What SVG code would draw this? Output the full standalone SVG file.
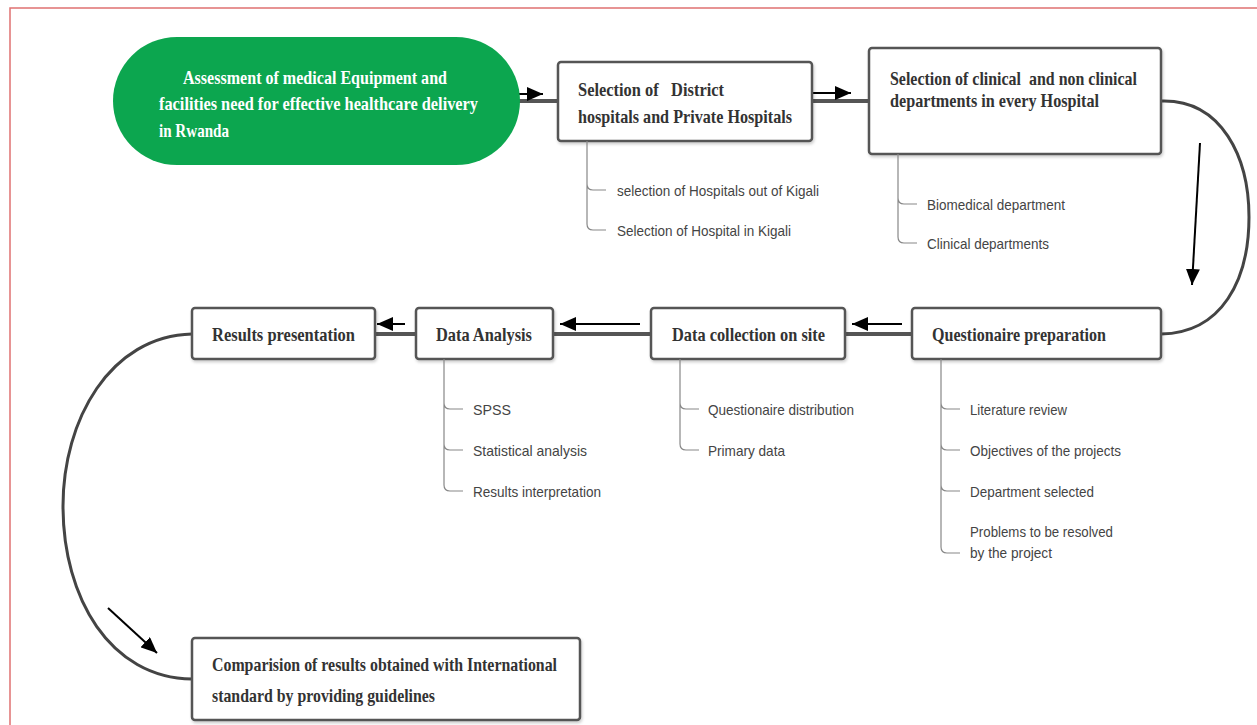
<svg xmlns="http://www.w3.org/2000/svg" width="1257" height="725" viewBox="0 0 1257 725">
<style>
.box{fill:#fff;stroke:#555;stroke-width:2.5}
.t{font-family:"Liberation Serif","Times New Roman",serif;font-weight:bold;font-size:19px;fill:#333}
.tw{font-family:"Liberation Serif","Times New Roman",serif;font-weight:bold;font-size:19px;fill:#fff}
.s{font-family:"Liberation Sans",Arial,sans-serif;font-size:15px;fill:#444}
.link{fill:none;stroke:#555;stroke-width:4}
.curve{fill:none;stroke:#444;stroke-width:3}
.br{fill:none;stroke:#888;stroke-width:1.2}
.arr{fill:none;stroke:#000;stroke-width:2;marker-end:url(#ah)}
</style>
<defs>
<marker id="ah" markerUnits="userSpaceOnUse" markerWidth="16" markerHeight="14" refX="16" refY="7" orient="auto">
<path d="M0,0 L16,7 L0,14 Z" fill="#000"/>
</marker>
<filter id="sh" x="-5%" y="-10%" width="110%" height="130%">
<feDropShadow dx="1" dy="2" stdDeviation="1.5" flood-color="#000" flood-opacity="0.2"/>
</filter>
</defs>
<rect width="1257" height="725" fill="#fff"/>
<path d="M10,725 V8 H1257" fill="none" stroke="#e07272" stroke-width="1.5"/>

<g id="connectors">
<path class="link" d="M515,101 H558"/>
<path class="link" d="M812,101 H869"/>
<path class="link" d="M845,334 H912"/>
<path class="link" d="M553,334 H651"/>
<path class="link" d="M375,334 H416"/>
<path class="curve" d="M1161,101 C1222,99 1249,158 1249,217 C1249,280 1222,333 1161,334"/>
<path class="curve" d="M192,334 C110,336 63,420 63,506 C63,598 110,678 192,679"/>
<path class="arr" d="M514,94 H543"/>
<path class="arr" d="M806,93 H851"/>
<path class="arr" d="M902,324 H852"/>
<path class="arr" d="M640,324 H560"/>
<path class="arr" d="M405,324 H377"/>
<path class="arr" d="M1200,143 L1192,285"/>
<path class="arr" d="M108,608 L157,653"/>
</g>

<g id="n-assessment">
<rect x="113" y="37" width="407" height="128" rx="64" ry="64" fill="#0ca64f"/>
<text class="tw" x="183" y="84" textLength="264" lengthAdjust="spacingAndGlyphs">Assessment of medical Equipment and</text>
<text class="tw" x="159" y="110" textLength="319" lengthAdjust="spacingAndGlyphs">facilities need for effective healthcare delivery</text>
<text class="tw" x="159" y="137" textLength="70" lengthAdjust="spacingAndGlyphs">in Rwanda</text>
</g>

<g id="n-selection-hospitals">
<rect class="box" x="558" y="62" width="254" height="79" rx="3" filter="url(#sh)"/>
<text class="t" x="578" y="96" textLength="146" lengthAdjust="spacingAndGlyphs" xml:space="preserve">Selection of   District</text>
<text class="t" x="578" y="123" textLength="214" lengthAdjust="spacingAndGlyphs">hospitals and Private Hospitals</text>
<path class="br" d="M587,141 V224 Q587,230 593,230 H606 M587,184 Q587,190 593,190 H606"/>
<text class="s" x="617" y="196" textLength="202" lengthAdjust="spacingAndGlyphs">selection of Hospitals out of Kigali</text>
<text class="s" x="617" y="236" textLength="174" lengthAdjust="spacingAndGlyphs">Selection of Hospital in Kigali</text>
</g>

<g id="n-selection-departments">
<rect class="box" x="869" y="48" width="292" height="106" rx="3" filter="url(#sh)"/>
<text class="t" x="890" y="85" textLength="247" lengthAdjust="spacingAndGlyphs" xml:space="preserve">Selection of clinical  and non clinical</text>
<text class="t" x="890" y="107" textLength="209" lengthAdjust="spacingAndGlyphs">departments in every Hospital</text>
<path class="br" d="M898,154 V237 Q898,243 904,243 H917 M898,198 Q898,204 904,204 H917"/>
<text class="s" x="927" y="210" textLength="138" lengthAdjust="spacingAndGlyphs">Biomedical department</text>
<text class="s" x="927" y="249" textLength="122" lengthAdjust="spacingAndGlyphs">Clinical departments</text>
</g>

<g id="n-questionaire">
<rect class="box" x="912" y="308" width="249" height="51" rx="3" filter="url(#sh)"/>
<text class="t" x="932" y="341" textLength="174" lengthAdjust="spacingAndGlyphs">Questionaire preparation</text>
<path class="br" d="M941,359 V547 Q941,553 947,553 H960 M941,403 Q941,409 947,409 H960 M941,444 Q941,450 947,450 H960 M941,485 Q941,491 947,491 H960"/>
<text class="s" x="970" y="415" textLength="97" lengthAdjust="spacingAndGlyphs">Literature review</text>
<text class="s" x="970" y="456" textLength="151" lengthAdjust="spacingAndGlyphs">Objectives of the projects</text>
<text class="s" x="970" y="497" textLength="124" lengthAdjust="spacingAndGlyphs">Department selected</text>
<text class="s" x="970" y="537" textLength="143" lengthAdjust="spacingAndGlyphs">Problems to be resolved</text>
<text class="s" x="970" y="558" textLength="82" lengthAdjust="spacingAndGlyphs">by the project</text>
</g>

<g id="n-data-collection">
<rect class="box" x="651" y="308" width="194" height="51" rx="3" filter="url(#sh)"/>
<text class="t" x="672" y="341" textLength="153" lengthAdjust="spacingAndGlyphs">Data collection on site</text>
<path class="br" d="M680,359 V444 Q680,450 686,450 H699 M680,403 Q680,409 686,409 H699"/>
<text class="s" x="708" y="415" textLength="146" lengthAdjust="spacingAndGlyphs">Questionaire distribution</text>
<text class="s" x="708" y="456" textLength="77" lengthAdjust="spacingAndGlyphs">Primary data</text>
</g>

<g id="n-data-analysis">
<rect class="box" x="416" y="308" width="137" height="51" rx="3" filter="url(#sh)"/>
<text class="t" x="436" y="341" textLength="96" lengthAdjust="spacingAndGlyphs">Data Analysis</text>
<path class="br" d="M444,359 V485 Q444,491 450,491 H463 M444,403 Q444,409 450,409 H463 M444,444 Q444,450 450,450 H463"/>
<text class="s" x="473" y="415" textLength="38" lengthAdjust="spacingAndGlyphs">SPSS</text>
<text class="s" x="473" y="456" textLength="114" lengthAdjust="spacingAndGlyphs">Statistical analysis</text>
<text class="s" x="473" y="497" textLength="128" lengthAdjust="spacingAndGlyphs">Results interpretation</text>
</g>

<g id="n-results-presentation">
<rect class="box" x="192" y="308" width="183" height="51" rx="3" filter="url(#sh)"/>
<text class="t" x="212" y="341" textLength="143" lengthAdjust="spacingAndGlyphs">Results presentation</text>
</g>

<g id="n-comparison">
<rect class="box" x="192" y="638" width="388" height="82" rx="3" filter="url(#sh)"/>
<text class="t" x="212" y="671" textLength="345" lengthAdjust="spacingAndGlyphs">Comparision of results obtained with International</text>
<text class="t" x="212" y="702" textLength="223" lengthAdjust="spacingAndGlyphs">standard by providing guidelines</text>
</g>
</svg>
